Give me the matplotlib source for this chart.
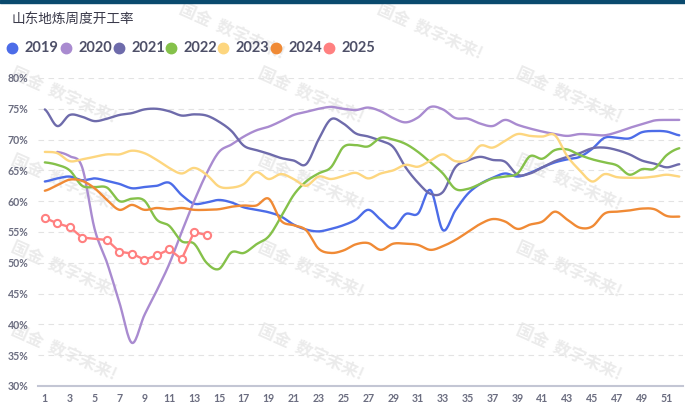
import numpy as np
import matplotlib
matplotlib.use("Agg")
import matplotlib.pyplot as plt

plt.rcParams['font.family'] = ['Lato', 'Noto Sans CJK SC', 'DejaVu Sans']

title = "山东地炼周度开工率"
weeks = list(range(1, 53))
years = ["2019", "2020", "2021", "2022", "2023", "2024", "2025"]
colors = ["#4c6ce8", "#a98bd0", "#6e6bab", "#85c14a", "#fdd67f", "#f08a35", "#ff8080"]

v2019 = [63.2, 63.7, 64.0, 63.4, 63.7, 63.3, 62.8, 62.1, 62.3, 62.5, 63.0, 61.0, 59.6, 59.8, 60.2, 59.8,
         59.0, 58.6, 58.2, 57.5, 56.2, 55.4, 55.1, 55.5, 56.1, 57.0, 58.6, 57.0, 55.6, 57.9, 58.0, 61.8,
         55.3, 58.5, 61.2, 62.8, 63.8, 64.5, 64.0, 64.6, 65.5, 66.3, 66.8, 67.2, 68.5, 70.3, 70.3, 70.2,
         71.2, 71.4, 71.3, 70.7]
v2020 = [None, 68.0, 67.3, 65.5, 55.5, 50.0, 43.5, 37.0, 41.5, 45.5, 49.8, 55.0, 60.0, 64.5, 68.0, 69.2,
         70.5, 71.5, 72.1, 73.0, 74.0, 74.5, 75.0, 75.3, 75.0, 74.8, 75.2, 74.6, 73.5, 72.8, 73.6, 75.3,
         74.9, 73.5, 73.4, 72.6, 72.2, 73.2, 72.4, 71.8, 71.3, 70.9, 70.6, 70.9, 70.8, 70.7, 71.2, 71.9,
         72.5, 73.1, 73.2, 73.2]
v2021 = [74.9, 72.2, 74.0, 73.7, 73.0, 73.4, 74.0, 74.3, 74.9, 75.0, 74.6, 73.9, 74.1, 73.9, 72.9, 71.4,
         69.0, 68.3, 67.7, 67.0, 66.6, 66.0, 70.0, 73.3, 72.6, 71.0, 70.5, 69.8, 68.8, 65.5, 63.0, 61.2,
         61.5, 65.5, 66.6, 67.2, 66.7, 66.4, 64.3, 64.5, 65.5, 66.5, 67.2, 67.8, 68.6, 68.7, 68.3, 67.6,
         66.6, 66.1, 65.5, 66.0]
v2022 = [66.3, 65.9, 65.0, 62.5, 62.3, 62.2, 60.0, 60.4, 60.1, 57.0, 56.0, 53.5, 53.1, 50.0, 49.0, 51.7,
         51.6, 53.0, 54.3, 57.5, 61.0, 63.2, 64.5, 65.5, 68.8, 69.1, 68.9, 70.3, 70.0, 69.3, 68.0, 66.3,
         64.5, 62.0, 62.0, 62.8, 63.7, 64.0, 64.5, 67.3, 66.9, 68.3, 68.4, 67.5, 66.8, 66.3, 65.8, 64.3,
         65.2, 65.3, 67.5, 68.6]
v2023 = [68.0, 67.8, 66.5, 66.8, 67.2, 67.6, 67.6, 68.2, 67.8, 66.7, 65.4, 64.5, 65.4, 64.3, 62.4, 62.2,
         62.8, 64.7, 63.6, 64.4, 63.6, 62.5, 64.0, 63.6, 64.1, 64.6, 63.7, 64.5, 65.0, 65.9, 65.6, 66.6,
         67.6, 66.5, 66.8, 69.0, 68.7, 69.8, 70.9, 70.6, 70.5, 70.7, 67.3, 65.0, 63.2, 64.4, 63.9, 63.8,
         63.8, 64.0, 64.3, 64.0]
v2024 = [61.7, 62.6, 63.5, 63.3, 62.1, 60.2, 58.6, 59.4, 58.6, 58.9, 58.7, 58.9, 58.6, 58.6, 58.7, 59.1,
         59.3, 59.3, 60.4, 56.8, 56.1, 55.3, 52.3, 51.6, 52.0, 53.0, 53.2, 52.1, 53.1, 53.1, 52.9, 52.1,
         52.7, 53.7, 55.0, 56.3, 57.1, 56.7, 55.5, 56.2, 56.7, 58.3, 57.0, 55.7, 55.9, 58.0, 58.3, 58.5,
         58.8, 58.7, 57.6, 57.5]
v2025 = [57.3, 56.4, 55.8, 54.1, None, 53.7, 51.8, 51.5, 50.5, 51.2, 52.2, 50.6, 55.0, 54.5]

yticks = [30, 35, 40, 45, 50, 55, 60, 65, 70, 75, 80]
xticks = list(range(1, 53, 2))


def smooth(xs, ys, n=16, k=0.5):
    xs = np.asarray(xs, float)
    ys = np.asarray(ys, float)
    m = len(xs)
    if m < 3:
        return xs, ys
    tang = np.zeros(m)
    tang[1:-1] = (ys[2:] - ys[:-2]) * k
    tang[0] = (ys[1] - ys[0]) * k
    tang[-1] = (ys[-1] - ys[-2]) * k
    ox, oy = [], []
    t = np.linspace(0, 1, n, endpoint=False)
    h00 = 2 * t**3 - 3 * t**2 + 1
    h10 = t**3 - 2 * t**2 + t
    h01 = -2 * t**3 + 3 * t**2
    h11 = t**3 - t**2
    for i in range(m - 1):
        ox.extend(xs[i] + t * (xs[i + 1] - xs[i]))
        oy.extend(h00 * ys[i] + h10 * tang[i] + h01 * ys[i + 1] + h11 * tang[i + 1])
    ox.append(xs[-1])
    oy.append(ys[-1])
    return np.array(ox), np.array(oy)


W, H = 685, 403
fig = plt.figure(figsize=(W / 100, H / 100), dpi=100)
fig.patch.set_facecolor("white")

deco = fig.add_axes([0, 0, 1, 1], zorder=0)
deco.set_xlim(0, W)
deco.set_ylim(H, 0)
deco.axis("off")

# watermarks
wm_pos = [(64, 96), (311, 96), (569, 96), (64, 183), (311, 183), (569, 183),
          (64, 270), (311, 270), (569, 270), (64, 353), (311, 353), (569, 353),
          (232, 32), (430, 32)]
for (wx, wy) in wm_pos:
    deco.text(wx, wy, "国金  数字未来!", rotation=-24, ha="center", va="center",
              fontsize=12, color="#ebebeb", fontweight="bold",
              family=["Noto Sans CJK SC", "DejaVu Sans"], zorder=0)

deco.add_patch(plt.Rectangle((0, 0), W, 3, color="#0a4a6e", zorder=5))

deco.text(12, 19, title, fontsize=9.8, color="#3a3a4a", ha="left", va="center",
          family=["Noto Sans CJK SC", "DejaVu Sans"], zorder=5)

leg_x = [12, 66, 119, 171, 223, 276, 329]
for lx, yr, c in zip(leg_x, years, colors):
    deco.plot([lx], [48], marker="o", markersize=7.5, color=c, zorder=5, clip_on=False)
    deco.text(lx + 13, 48.5, yr, fontsize=10.5, color="#4e5068", ha="left", va="center",
              fontweight="bold", zorder=5)

ax = fig.add_axes([38 / W, (H - 386) / H, (683 - 38) / W, (386 - 78) / H], zorder=2)
ax.patch.set_alpha(0)
ax.set_xlim(0.45, 52.3)
ax.set_ylim(30, 80)

series = [v2019, v2020, v2021, v2022, v2023, v2024]
for vals, c in zip(series, colors[:6]):
    xs = [w for w, v in zip(weeks, vals) if v is not None]
    ys = [v for v in vals if v is not None]
    sx, sy = smooth(xs, ys)
    ax.plot(sx, sy, color=c, lw=1.7, solid_capstyle="round", zorder=3)

x25 = [w for w, v in zip(weeks, v2025) if v is not None]
y25 = [v for v in v2025 if v is not None]
ax.plot(x25, y25, color=colors[6], lw=1.7, marker="o", markersize=5.2,
        markerfacecolor="white", markeredgecolor=colors[6], markeredgewidth=1.5, zorder=4)

ax.set_yticks(yticks)
ax.set_yticklabels([f"{t}%" for t in yticks])
ax.set_xticks(xticks)
ax.set_xticklabels([str(t) for t in xticks])
for yv in yticks[1:]:
    ax.axhline(yv, color="#e3e3e3", lw=0.8, ls=(0, (5, 4)), zorder=1)

for s in ["top", "right", "left"]:
    ax.spines[s].set_visible(False)
ax.spines["bottom"].set_color("#c3c6d4")
ax.spines["bottom"].set_linewidth(1.5)
ax.tick_params(axis="both", length=0, labelsize=7.6, labelcolor="#6b6d80")
ax.tick_params(axis="y", pad=7)
ax.tick_params(axis="x", pad=5)
for lab in ax.get_xticklabels() + ax.get_yticklabels():
    lab.set_fontweight("bold")

fig.savefig("out.png", dpi=100)
